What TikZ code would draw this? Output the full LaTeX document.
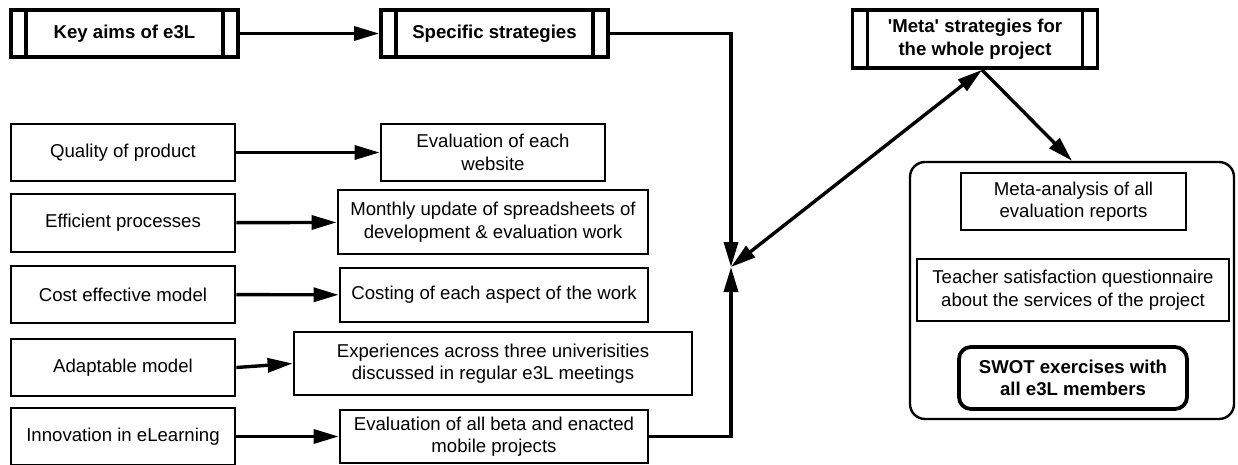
\documentclass[tikz,border=0pt]{standalone}
\usepackage{fontspec}
\setmainfont{Liberation Sans}
\usetikzlibrary{arrows.meta}
\tikzset{
  plainbox/.style={draw, line width=2.8pt, inner sep=2pt, align=center},
  headbox/.style={draw, line width=3.8pt, inner sep=2pt, align=center, font=\fontsize{18.6}{22.5}\selectfont\bfseries,
    path picture={
      \draw[line width=3.8pt] ([xshift=15pt]path picture bounding box.north west) -- ([xshift=15pt]path picture bounding box.south west);
      \draw[line width=3.8pt] ([xshift=-15pt]path picture bounding box.north east) -- ([xshift=-15pt]path picture bounding box.south east);
    }},
  arr/.style={line width=3.4pt, -{Triangle[length=25pt,width=14pt]}},
  arrboth/.style={line width=3.4pt, {Triangle[length=25pt,width=14pt]}-{Triangle[length=25pt,width=14pt]}}
}
\begin{document}
\begin{tikzpicture}[x=1pt, y=-1pt, font=\fontsize{18.6}{22.5}\selectfont]
                \useasboundingbox (0,0) rectangle (1238,465);
                
                % Drawing header boxes
                \node [headbox, minimum width=227pt, minimum height=47pt] (aims) at (124.5,33.5) {Key aims of e3L};%
                \node [headbox, minimum width=227pt, minimum height=47pt] (spec) at (494.5,33.5) {Specific strategies};%
                \node [headbox, minimum width=245pt, minimum height=58pt] (meta) at (975,39) {\textquotesingle Meta\textquotesingle{} strategies for\\the whole project};%
                
                % Drawing aim boxes
                \node [plainbox, minimum width=224pt, minimum height=57pt] (quality) at (123,152.5) {Quality of product};%
                \node [plainbox, minimum width=224pt, minimum height=58pt] (process) at (123,223) {Efficient processes};%
                \node [plainbox, minimum width=224pt, minimum height=57pt] (cost) at (123,294.5) {Cost effective model};%
                \node [plainbox, minimum width=224pt, minimum height=57pt] (adapt) at (123,367.5) {Adaptable model};%
                \node [plainbox, minimum width=224pt, minimum height=57pt] (innov) at (123,436.5) {Innovation in eLearning};%
                
                % Drawing strategy boxes
                \node [plainbox, minimum width=224pt, minimum height=57pt] (website) at (493,152.5) {Evaluation of each\\website};%
                \node [plainbox, minimum width=310pt, minimum height=64pt] (monthly) at (493,222) {Monthly update of spreadsheets of\\development \& evaluation work};%
                \node [plainbox, minimum width=308pt, minimum height=54pt] (costing) at (494,295) {Costing of each aspect of the work};%
                \node [plainbox, minimum width=398pt, minimum height=63pt] (exper) at (493,363.5) {Experiences across three univerisities\\discussed in regular e3L meetings};%
                \node [plainbox, minimum width=308pt, minimum height=53pt] (beta) at (494,436.5) {Evaluation of all beta and enacted\\mobile projects};%
                
                % Drawing meta container
                \node [draw, line width=2.4pt, rounded corners=15pt, minimum width=324pt, minimum height=257pt] (group) at (1072,290.5) {};%
                \node [plainbox, minimum width=225pt, minimum height=57pt] (metaan) at (1073.5,201.5) {Meta-analysis of all\\evaluation reports};%
                \node [plainbox, minimum width=312pt, minimum height=62pt] (teacher) at (1073,290) {Teacher satisfaction questionnaire\\about the services of the project};%
                \node [plainbox, line width=3.8pt, rounded corners=12pt, minimum width=228pt, minimum height=62pt, font=\fontsize{18.6}{22.5}\selectfont\bfseries] (swot) at (1073,378) {SWOT exercises with\\all e3L members};%
                
                % Marking junction
                \coordinate (junc) at (731,267);
                
                % Drawing arrows
                \draw [arr] (aims) -- (spec);%
                \draw [arr] (quality) -- (website);%
                \draw [arr] (process) -- (monthly);%
                \draw [arr] (cost) -- (costing);%
                \draw [arr] (adapt.east) -- (exper.west);%
                \draw [arr] (innov) -- (beta);%
                \draw [arr] (spec.east) -| (junc);%
                \draw [arr] (beta.east) -| (junc);%
                \draw [arrboth] (junc) -- ([xshift=7pt]meta.south);%
                \draw [arr] ([xshift=7pt]meta.south) -- (group.north);%
                \end{tikzpicture}
\end{document}
